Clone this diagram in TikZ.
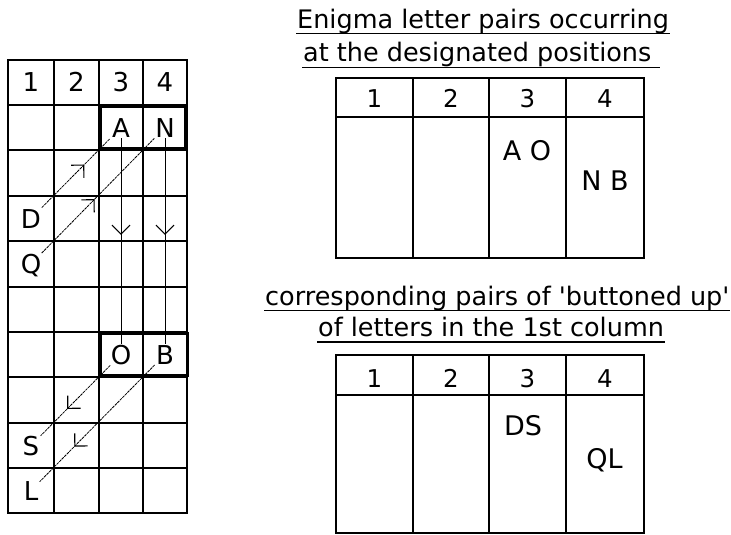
\documentclass[tikz,border=0pt]{standalone}
\usepackage{fontspec}
\setmainfont{DejaVu Sans}
\usetikzlibrary{arrows.meta,decorations.markings}
\newcommand{\gridfont}{\fontsize{26}{26}\selectfont}
\newcommand{\headfont}{\fontsize{24.5}{24.5}\selectfont}
\newcommand{\titlefont}{\fontsize{25.5}{30}\selectfont}
\newcommand{\pairfont}{\fontsize{27}{27}\selectfont}
\tikzset{
  cell/.style={font=\gridfont, inner sep=1.5pt, text height=19pt, text depth=0pt},
  headline/.style={font=\titlefont, anchor=base west, inner sep=0pt},
  pair/.style={font=\pairfont, anchor=base, inner sep=0pt},
  diag/.style={line width=0.8pt, dash pattern=on 2pt off 1.6pt},
  midarrow/.style={postaction={decorate}, decoration={markings,
      mark=at position #1 with {\arrow{Straight Barb[length=9pt,width=18pt,line width=1.1pt]}}}},
}
\begin{document}
\begin{tikzpicture}[x=1pt, y=-1pt, line cap=rect]
    \useasboundingbox (0,0) rectangle (731,535);
    % grid on the left
    \foreach \x in {8,54,99,143,187}
        \draw[line width=1.2pt] (\x,60) -- (\x,513);
    \foreach \y in {60,105,150,196,241,287,332,377,423,468,513}
        \draw[line width=1.2pt] (8,\y) -- (187,\y);
    \foreach \x/\n in {31/1, 76.5/2, 121/3, 165/4}
        \node[cell] (g\n) at (\x,82.5) {\n};
    \draw[line width=3pt] (100.5,106.5) rectangle (185.5,148.5);
    \draw[line width=3pt] (100.5,333.5) rectangle (187.5,375.5);
    \node[cell] (A) at (121,127.5) {A};
    \node[cell] (N) at (165,127.5) {N};
    \node[cell] (D) at (31,218.5) {D};
    \node[cell] (Q) at (31,264) {Q};
    \node[cell] (O) at (121,354.5) {O};
    \node[cell] (B) at (165,354.5) {B};
    \node[cell] (S) at (31,445.5) {S};
    \node[cell] (L) at (31,490.5) {L};
    % pairs up, then down, then back to column 1
    \draw[diag, midarrow=0.62] (D) -- (A);
    \draw[diag, midarrow=0.47] (Q) -- (N);
    \draw[line width=1pt, midarrow=0.47] (A) -- (O);
    \draw[line width=1pt, midarrow=0.47] (N) -- (B);
    \draw[diag, midarrow=0.62] (O) -- (S);
    \draw[diag, midarrow=0.70] (B) -- (L);
    % titles
    \node[headline] (h1) at (297,28.5) {Enigma letter pairs occurring};
    \node[headline] (h2) at (303,61.5) {at the designated positions};
    \node[headline] (h3) at (265,305) {corresponding pairs of \textquotesingle buttoned up\textquotesingle};
    \node[headline] (h4) at (318,336) {of letters in the 1st column};
    \draw[line width=1.2pt] ([yshift=-5pt]h1.base west) -- ([yshift=-5pt]h1.base east);
    \draw[line width=1.2pt] ([yshift=-6pt]h2.base west) -- ([xshift=8pt,yshift=-6pt]h2.base east);
    \draw[line width=1.2pt] ([yshift=-5.5pt]h3.base west) -- ([yshift=-5.5pt]h3.base east);
    \draw[line width=1.2pt] ([yshift=-6pt]h4.base west) -- ([yshift=-6pt]h4.base east);
    % the two tables
    \foreach \t/\top/\mid/\bot/\hb in {a/78/117/258/107, b/355/395/533/387} {
        \draw[line width=1.4pt] (336,\top) rectangle (644,\bot);
        \draw[line width=1.4pt] (336,\mid) -- (644,\mid);
        \foreach \x in {413,489,566}
            \draw[line width=1.4pt] (\x,\top) -- (\x,\bot);
        \foreach \x/\n in {374.5/1, 451/2, 527.5/3, 605/4}
            \node[font=\headfont, anchor=base, inner sep=0pt] (\t\n) at (\x,\hb) {\n};
    }
    \node[pair] (pAO) at (527,160) {A O};
    \node[pair] (pNB) at (605,190.5) {N B};
    \node[pair] (pDS) at (523,435) {DS};
    \node[pair] (pQL) at (604.5,468) {QL};
\end{tikzpicture}
\end{document}
